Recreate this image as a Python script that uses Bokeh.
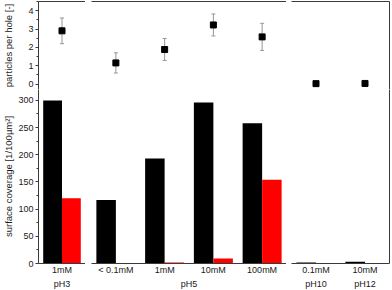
from bokeh.plotting import figure
from bokeh.models import (ColumnDataSource, FactorRange, Range1d, LinearAxis,
                          FixedTicker, SingleIntervalTicker, Whisker, TeeHead)
from bokeh.layouts import gridplot
from bokeh.transform import dodge
from bokeh.embed import file_html
from bokeh.resources import INLINE

# ---------------- data ----------------
panel = [0, 1, 1, 1, 1, 2, 2]
ph_group = ["pH3", "pH5", "pH5", "pH5", "pH5", "pH10", "pH12"]
concentration = ["1mM", "< 0.1mM", "1mM", "10mM", "100mM", "0.1mM", "10mM"]
coverage_black = [300, 117, 193, 296, 258, 2, 3]
coverage_red = [120, 1, 2, 9, 154, 1, 1]
particles_mean = [2.9, 1.15, 1.88, 3.22, 2.57, 0.02, 0.03]
particles_err = [0.7, 0.55, 0.6, 0.6, 0.74, 0.0, 0.0]

top_ticks = [0, 1, 2, 3, 4]
top_minor_ticks = [-0.5, 0.5, 1.5, 2.5, 3.5, 4.5]
bottom_tick_interval = 50

# ---------------- style ----------------
FONT = "Liberation Sans"
LINE = "#3a3a3a"
TXT = "#1a1a1a"
FRAME_W = [47, 195, 98]
LEFT_B = [38, 6, 5]
TOP_H = 88
BOT_H = 174

def frame_axis(p, loc):
    ax = LinearAxis()
    ax.ticker = FixedTicker(ticks=[])
    ax.major_tick_line_color = None
    ax.minor_tick_line_color = None
    ax.major_tick_in = 0
    ax.major_tick_out = 0
    ax.major_label_text_font_size = "0px"
    ax.major_label_standoff = 0
    ax.axis_line_color = LINE
    ax.axis_line_width = 1
    p.add_layout(ax, loc)

def style_yaxis(ax, label, standoff):
    ax.axis_label = label
    ax.axis_label_text_font = FONT
    ax.axis_label_text_font_size = "9.5px"
    ax.axis_label_text_font_style = "normal"
    ax.axis_label_text_color = TXT
    ax.axis_label_standoff = standoff
    ax.major_label_text_font = FONT
    ax.major_label_text_font_size = "9px"
    ax.major_label_text_color = TXT
    ax.major_label_standoff = 2
    ax.major_tick_in = 0
    ax.major_tick_out = 3
    ax.minor_tick_in = 0
    ax.minor_tick_out = 2
    ax.axis_line_color = LINE
    ax.major_tick_line_color = LINE
    ax.minor_tick_line_color = LINE

top_figs, bot_figs = [], []
for k in range(3):
    idx = [i for i in range(len(panel)) if panel[i] == k]
    n = len(idx)
    factors = [(ph_group[i], concentration[i]) for i in idx]
    xr = FactorRange(factors=factors, range_padding=0, factor_padding=0,
                     group_padding=0, subgroup_padding=0)
    src = ColumnDataSource(dict(
        x=factors,
        pos=[j + 0.5 for j in range(n)],
        black=[coverage_black[i] for i in idx],
        red=[coverage_red[i] for i in idx],
        mean=[particles_mean[i] for i in idx],
        upper=[particles_mean[i] + particles_err[i] for i in idx],
        lower=[particles_mean[i] - particles_err[i] for i in idx],
    ))
    right_b = 2 if k == 2 else 0

    # ---- top row ----
    pt = figure(x_range=Range1d(0, n), y_range=Range1d(-0.3, 4.5),
                frame_width=FRAME_W[k], frame_height=TOP_H,
                x_axis_location=None, y_axis_location=("left" if k == 0 else None),
                output_backend="svg", toolbar_location=None, tools="",
                min_border_left=LEFT_B[k], min_border_right=right_b,
                min_border_top=1, min_border_bottom=0)
    pt.outline_line_color = None
    pt.grid.visible = False
    frame_axis(pt, "above")
    frame_axis(pt, "below")
    if k == 2:
        frame_axis(pt, "right")
    if k == 0:
        pt.yaxis.ticker = FixedTicker(ticks=top_ticks, minor_ticks=top_minor_ticks)
        style_yaxis(pt.yaxis[0], "particles per hole [-]", 11)
    wk = Whisker(base="pos", upper="upper", lower="lower", source=src,
                 line_color="#969696", line_width=1,
                 upper_head=TeeHead(size=4, line_color="#969696", line_width=1),
                 lower_head=TeeHead(size=4, line_color="#969696", line_width=1))
    pt.add_layout(wk)
    pt.scatter(x="pos", y="mean", source=src, marker="square", size=6,
               fill_color="black", line_color="black")
    top_figs.append(pt)

    # ---- bottom row ----
    pb = figure(x_range=xr, y_range=Range1d(0, 320), frame_width=FRAME_W[k], frame_height=BOT_H,
                y_axis_location=("left" if k == 0 else None),
                output_backend="svg", toolbar_location=None, tools="",
                min_border_left=LEFT_B[k], min_border_right=right_b,
                min_border_top=0, min_border_bottom=0)
    pb.outline_line_color = None
    pb.grid.visible = False
    pb.vbar(x=dodge("x", -0.2, range=xr), top="black", width=0.4, bottom=0, source=src,
            fill_color="black", line_color=None)
    pb.vbar(x=dodge("x", 0.2, range=xr), top="red", width=0.4, bottom=0, source=src,
            fill_color="#ff0000", line_color=None)
    xa = pb.xaxis[0]
    xa.axis_line_color = LINE
    xa.major_tick_line_color = None
    xa.minor_tick_line_color = None
    xa.major_tick_in = 0
    xa.major_tick_out = 0
    xa.separator_line_color = None
    xa.major_label_standoff = 1
    xa.major_label_text_font = FONT
    xa.major_label_text_font_size = "9px"
    xa.major_label_text_color = TXT
    xa.group_text_font = FONT
    xa.group_text_font_size = "9px"
    xa.group_text_font_style = "normal"
    xa.group_text_color = TXT
    if k == 2:
        frame_axis(pb, "right")
    if k == 0:
        pb.yaxis.ticker = SingleIntervalTicker(interval=bottom_tick_interval, num_minor_ticks=2)
        style_yaxis(pb.yaxis[0], "surface coverage [1/100µm²]", 1)
    bot_figs.append(pb)

grid = gridplot([top_figs, bot_figs], toolbar_location=None)
open("out.html", "w").write(file_html(grid, INLINE))
